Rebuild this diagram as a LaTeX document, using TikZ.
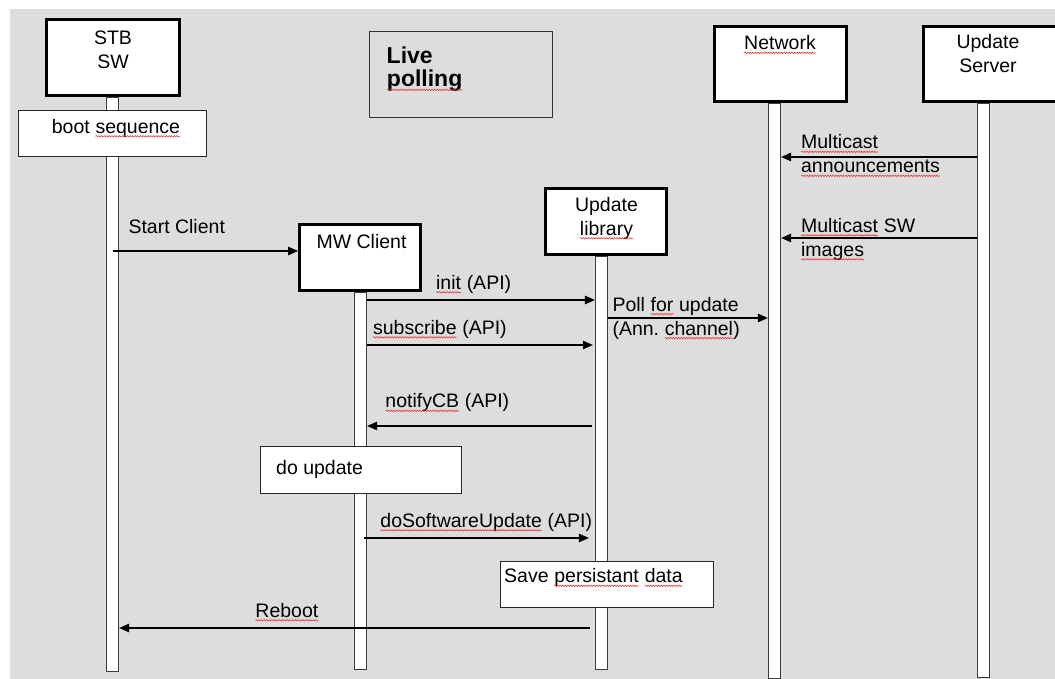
\documentclass[tikz,border=0pt]{standalone}
\usepackage{fontspec}
\setmainfont{Liberation Sans}
\usetikzlibrary{arrows.meta,decorations.pathmorphing}
\definecolor{PanelGray}{RGB}{221,221,221}
\definecolor{EdgeGray}{RGB}{60,60,60}
\definecolor{SpellRed}{RGB}{232,40,40}
\frenchspacing
\newcommand\diafont{\fontsize{19.5}{24}\selectfont}
\newcommand\squig[1]{\tikz[baseline=(sq.base)]{\node[inner sep=0pt,outer sep=0pt,draw=none,fill=none,shape=rectangle,anchor=base,minimum width=0pt,minimum height=0pt,align=left] (sq) {#1};\draw[SpellRed,line width=0.5pt,decorate,decoration={snake,amplitude=0.75pt,segment length=2.6pt}] ([yshift=-3pt]sq.base west) -- ([yshift=-3pt]sq.base east);}}
\tikzset{
  head/.style={draw=black,line width=3pt,fill=white},
  lifeline/.style={draw=EdgeGray,line width=1.3pt,fill=white,minimum width=12,anchor=north},
  note/.style={draw=black!85,line width=1pt,fill=white},
  msg/.style={-{Triangle[length=10pt,width=8.5pt]},line width=1.2pt,draw=black},
  lbl/.style={inner sep=0pt,anchor=north west,align=left,font=\diafont},
  htxt/.style={inner sep=0pt,anchor=north,align=center,font=\diafont}
}
\begin{document}
\begin{tikzpicture}[x=1pt,y=-1pt]
  \useasboundingbox (0,0) rectangle (1055,679);
  \fill[PanelGray] (10,9) rectangle (1055,679);

  \node[lifeline,minimum height=574] (stbL) at (112.5,97) {};
  \node[lifeline,minimum height=377] (mwL) at (360.5,292) {};
  \node[lifeline,minimum height=413] (libL) at (601.5,256) {};
  \node[lifeline,minimum height=575] (netL) at (774.5,103) {};
  \node[lifeline,minimum height=574] (srvL) at (983.5,103) {};

  \node[head,minimum width=133,minimum height=76] (stb) at (113,57.5) {};
  \node[head,minimum width=132,minimum height=75] (net) at (780.5,64) {};
  \node[head,minimum width=133,minimum height=75] (srv) at (990,64) {};
  \node[head,minimum width=121,minimum height=66] (lib) at (606,221.5) {};
  \node[head,minimum width=121,minimum height=66] (mw) at (360,257.5) {};
  \node[draw=black!80,line width=1.5pt,fill=PanelGray,minimum width=183,minimum height=86] (live) at (461,74.5) {};
  \node[note,minimum width=188,minimum height=46] (boot) at (112.5,133.5) {};
  \node[note,minimum width=201,minimum height=47] (doupd) at (361,470) {};
  \node[note,minimum width=213,minimum height=46] (save) at (607,584.5) {};

  \node[htxt] (stbT) at (113,31) {STB\\SW};
  \node[htxt] (netT) at (780,35.5) {\squig{Network}};
  \node[htxt] (srvT) at (988,34.5) {Update\\Server};
  \node[htxt] (libT) at (606.5,197) {Update\\\squig{library}};
  \node[htxt] (mwT) at (361.5,234) {MW Client};
  \node[lbl,font=\fontsize{23}{23.5}\selectfont\bfseries] (liveT) at (386.5,46.5) {Live\\\squig{polling}};
  \node[lbl] (bootT) at (51.7,119) {boot \squig{sequence}};
  \node[lbl] (doupdT) at (276,460) {do update};
  \node[lbl] (saveT) at (504,568.5) {Save \squig{persistant} \squig{data}};

  \draw[msg] (stbL.center |- 0,251) -- (mw.west |- 0,251);
  \node[lbl] (startT) at (128.3,219.5) {Start Client};
  \draw[msg] (mwL.east |- 0,300) -- (libL.west |- 0,300);
  \node[lbl] (initT) at (435.7,275) {\squig{init} (API)};
  \draw[msg] (mwL.east |- 0,345) -- ([xshift=-2]libL.west |- 0,345);
  \node[lbl] (subT) at (372.7,320) {\squig{subscribe} (API)};
  \draw[msg] (libL.east |- 0,318) -- (netL.west |- 0,318);
  \node[lbl] (pollT) at (612.3,296.8) {Poll \squig{for} update\\(Ann. \squig{channel})};
  \draw[msg] ([xshift=-3]libL.west |- 0,426) -- (mwL.east |- 0,426);
  \node[lbl] (notT) at (385,393.5) {\squig{notifyCB} (API)};
  \draw[msg] ([xshift=-3]mwL.east |- 0,538) -- ([xshift=-6]libL.west |- 0,538);
  \node[lbl] (dosT) at (380,513) {\squig{doSoftwareUpdate} (API)};
  \draw[msg] ([xshift=-5]libL.west |- 0,628) -- (stbL.east |- 0,628);
  \node[lbl] (rebootT) at (255,603) {\squig{Reboot}};
  \draw[msg] (srvL.west |- 0,157) -- (netL.east |- 0,157);
  \node[lbl] (mc1T) at (800.7,134.5) {\squig{Multicast}\\\squig{announcements}};
  \draw[msg] (srvL.west |- 0,238) -- (netL.east |- 0,238);
  \node[lbl] (mc2T) at (800.7,218) {\squig{Multicast} SW\\\squig{images}};
\end{tikzpicture}
\end{document}
